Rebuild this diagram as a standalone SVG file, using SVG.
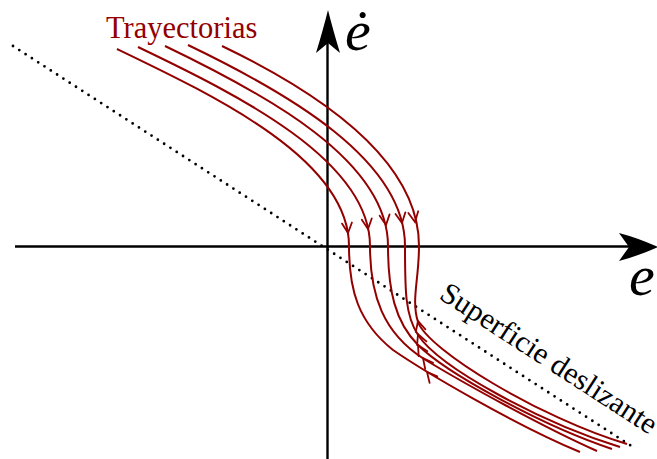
<svg xmlns="http://www.w3.org/2000/svg" xmlns:xlink="http://www.w3.org/1999/xlink" width="657" height="459" viewBox="0 0 657 459">
<style>
.axis{stroke:#000;stroke-width:2.4;fill:none}
.head{fill:#000;stroke:none}
.traj{stroke:#930000;stroke-width:2;fill:none}
.tip{stroke:#930000;stroke-width:1.8;fill:none;stroke-linecap:round;stroke-linejoin:miter}
.surf{stroke:#000;stroke-width:2.8;fill:none;stroke-linecap:round;stroke-dasharray:0 7.5}
.lbl{font-family:"Liberation Serif","Times New Roman",serif;fill:#000}
.var{font-family:"Liberation Serif","Times New Roman",serif;font-style:italic;fill:#000;font-size:58px}
.red{font-family:"Liberation Serif","Times New Roman",serif;fill:#930000;font-size:30.5px}
</style>
<defs>
<path id="ah" d="M-10,-5 L0,0 L-10,5"/>
</defs>
<rect width="657" height="459" fill="#fff"/>
<g id="surface">
<path class="surf" d="M13,46 L636,449"/>
</g>
<g id="axes">
<g id="axis-e">
<path class="axis" d="M15,246.5 L630,246.5"/>
<path class="head" d="M658,247 Q638,238 619,233 L629,247 L619,261 Q638,256 658,247 Z"/>
</g>
<g id="axis-edot">
<path class="axis" d="M327.5,459 L327.5,40"/>
<path class="head" d="M328,10 Q323,30 316,53 L328,43 L340,53 Q333,30 328,10 Z"/>
</g>
</g>
<g id="connectors">
<path class="traj" d="M117,49 C217,97 349,160 349,246 C349,290 358,322 393,350 C425,372 515,425 580,452"/>
<path class="traj" d="M138,47 C238,95 370,160 370,246 C370,295 383,333 424,359 C465,384 545,428 597,451"/>
<path class="traj" d="M165,46 C265,94 388,160 388,246 C388,290 395,322 418,345 C445,372 540,425 612,449"/>
<path class="traj" d="M188,45 C288,93 405,160 405,246 C405,290 405,315 418,335 C440,368 540,422 620,447"/>
<path class="traj" d="M222,46 C322,94 419,160 419,246 C419,280 411,300 418,322 C428,350 540,418 627,444"/>
<use class="tip" xlink:href="#ah" transform="translate(348,233) rotate(84)"/>
<use class="tip" xlink:href="#ah" transform="translate(368,229) rotate(83)"/>
<use class="tip" xlink:href="#ah" transform="translate(386,225) rotate(82)"/>
<use class="tip" xlink:href="#ah" transform="translate(402,223) rotate(81)"/>
<use class="tip" xlink:href="#ah" transform="translate(415,222) rotate(80)"/>
<use class="tip" xlink:href="#ah" transform="translate(427,372) rotate(-130)"/>
<use class="tip" xlink:href="#ah" transform="translate(423,358) rotate(-128)"/>
<use class="tip" xlink:href="#ah" transform="translate(418,345) rotate(-120)"/>
<use class="tip" xlink:href="#ah" transform="translate(418,334) rotate(-112)"/>
<use class="tip" xlink:href="#ah" transform="translate(418,321) rotate(-105)"/>
</g>
<g id="labels">
<text class="var" x="345" y="50">ė</text>
<text class="var" x="629" y="295">e</text>
<text class="red" x="106" y="38">Trayectorias</text>
<text class="lbl" font-size="30" textLength="252" lengthAdjust="spacingAndGlyphs" transform="translate(438,298) rotate(32.94)">Superficie deslizante</text>
</g>
</svg>
